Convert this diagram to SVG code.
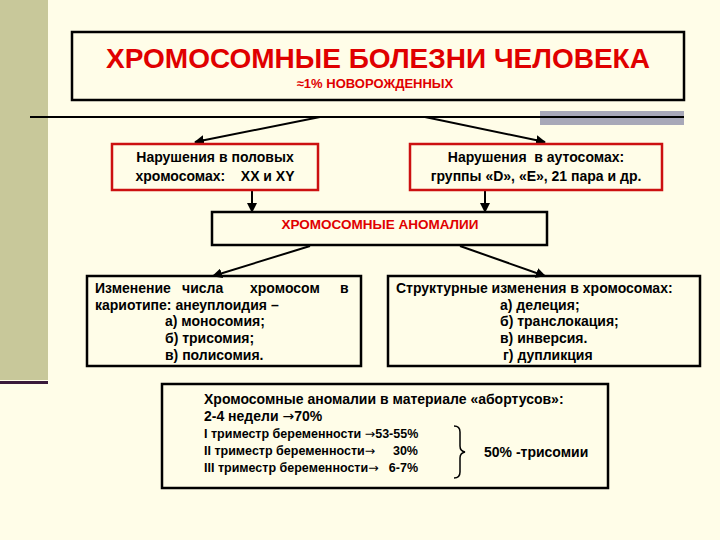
<svg xmlns="http://www.w3.org/2000/svg" width="720" height="540" viewBox="0 0 720 540">
<style>
text{font-family:"Liberation Sans",Arial,sans-serif;font-weight:bold;font-size:14px;fill:#000}
.red{fill:#e00000}
.sm{font-size:12.5px}
.ar{font-family:"DejaVu Sans",sans-serif;font-weight:normal}
.bx{fill:none;stroke:#000;stroke-width:2.5}
.rb{fill:none;stroke:#cc1010;stroke-width:2.5}
.c{stroke:#000;stroke-width:2;fill:none;marker-end:url(#a)}
</style>
<defs><marker id="a" viewBox="0 0 10 10" refX="9" refY="5" markerWidth="5" markerHeight="5" orient="auto"><path d="M0,0L10,5L0,10z" fill="#000"/></marker></defs>
<rect width="720" height="540" fill="#fffde8"/>
<rect x="0" y="0" width="48" height="380" fill="#c8c89a"/>
<rect x="0" y="381" width="48" height="3" fill="#3a1a3a"/>
<rect x="540" y="111" width="144" height="14" fill="#a8a8b8"/>
<g id="connectors">
<line x1="30" y1="117" x2="684" y2="117" stroke="#000" stroke-width="2"/>
<path class="c" d="M320,117L195,142"/>
<path class="c" d="M425,117L545,142"/>
<path class="c" d="M252,190L252,212"/>
<path class="c" d="M485,190L485,212"/>
<path class="c" d="M310,246L213,276"/>
<path class="c" d="M460,246L545,276"/>
</g>
<g id="title"><rect class="bx" x="72" y="32" width="612" height="68" fill="#fffef8"/>
<text x="378" y="68" text-anchor="middle" class="red" style="font-size:28px">ХРОМОСОМНЫЕ БОЛЕЗНИ ЧЕЛОВЕКА</text>
<text x="375" y="88" text-anchor="middle" class="red" style="font-size:13px">≈1% НОВОРОЖДЕННЫХ</text></g>
<g id="sex"><rect class="rb" x="112" y="144" width="206" height="46" fill="#fffef8"/>
<text x="215" y="162" text-anchor="middle">Нарушения в половых</text>
<text x="215" y="181" text-anchor="middle" xml:space="preserve">хромосомах:    XX и XY</text></g>
<g id="auto"><rect class="rb" x="410" y="144" width="252" height="46" fill="#fffef8"/>
<text x="536" y="162" text-anchor="middle" xml:space="preserve">Нарушения  в аутосомах:</text>
<text x="536" y="181" text-anchor="middle">группы «D», «E»,  21 пара и др.</text></g>
<g id="anom"><rect class="bx" x="212" y="212" width="335" height="33" fill="#fffef8"/>
<text x="380" y="229" text-anchor="middle" class="red" style="font-size:13.5px">ХРОМОСОМНЫЕ АНОМАЛИИ</text></g>
<g id="num"><rect class="bx" x="87" y="276" width="274" height="90" fill="#fffef8"/>
<text x="95" y="293">Изменение</text><text x="182" y="293">числа</text><text x="250" y="293">хромосом</text><text x="340" y="293">в</text>
<text x="95" y="310">кариотипе: анеуплоидия –</text>
<text x="165" y="326">а) моносомия;</text>
<text x="165" y="343">б) трисомия;</text>
<text x="165" y="360">в) полисомия.</text></g>
<g id="struct"><rect class="bx" x="388" y="276" width="312" height="90" fill="#fffef8"/>
<text x="396" y="293">Структурные изменения в хромосомах:</text>
<text x="500" y="310">а) делеция;</text>
<text x="500" y="326">б) транслокация;</text>
<text x="500" y="343">в) инверсия.</text>
<text x="503" y="360">г) дупликция</text></g>
<g id="abort"><rect class="bx" x="162" y="384" width="446" height="104" fill="#fffef8"/>
<text x="204" y="404">Хромосомные аномалии в материале «абортусов»:</text>
<text x="204" y="421">2-4 недели <tspan class="ar">→</tspan>70%</text>
<text x="204" y="438" class="sm">I триместр беременности <tspan class="ar">→</tspan>53-55%</text>
<text x="204" y="455" class="sm">II триместр беременности<tspan class="ar">→</tspan></text><text x="418" y="455" text-anchor="end" class="sm">30%</text>
<text x="204" y="472" class="sm">III триместр беременности<tspan class="ar">→</tspan></text><text x="418" y="472" text-anchor="end" class="sm">6-7%</text>
<path d="M454,426q6,0 6,6v14q0,5 5,6q-5,1 -5,6v14q0,6 -6,6" fill="none" stroke="#000" stroke-width="1.5"/>
<text x="484" y="457">50% -трисомии</text></g>
</svg>
